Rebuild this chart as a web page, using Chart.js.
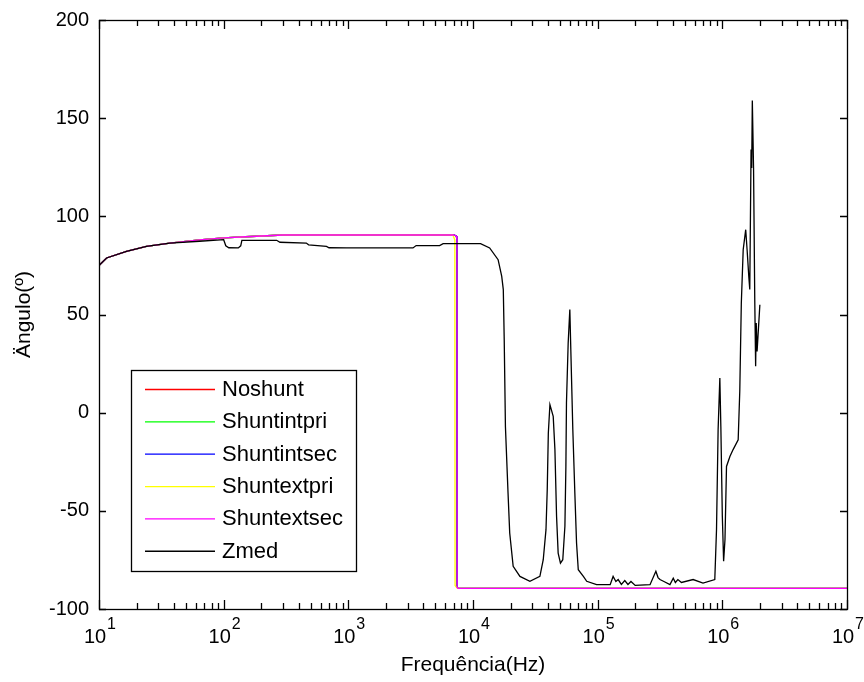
<!DOCTYPE html>
<html>
<head>
<meta charset="utf-8">
<script src="https://cdn.jsdelivr.net/npm/chart.js@4.4.1/dist/chart.umd.min.js"></script>
<style>
  html, body { margin: 0; padding: 0; background: #fff; }
  #wrap { width: 864px; height: 682px; }
</style>
</head>
<body>
<div id="wrap"><canvas id="chart" width="864" height="682"></canvas></div>
<script>
// shunt curves all sit on top of each other
const shuntFreq  = [10, 11.5, 16.6, 24, 37, 64, 100, 150, 300, 7000, 7350, 7440, 7460, 7600, 10000000]
const shuntAngle = [75, 78.8, 82.2, 84.7, 86.4, 88, 89, 89.6, 90.5, 90.5, 90, 88, -89, -89.5, -89.5]
// Shuntextpri drops a little earlier
const extpriFreq  = [10, 11.5, 16.6, 24, 37, 64, 100, 150, 300, 6900, 7150, 7180, 7500, 10000000]
const extpriAngle = [75, 78.8, 82.2, 84.7, 86.4, 88, 89, 89.6, 90.5, 90.5, 88, -88, -89.5, -89.5]

const zmedFreq = [
  10, 11.5, 16.6, 24, 37, 64, 100, 104, 110, 131, 137, 140, 266, 283, 460, 480, 668, 700, 966,
  3300, 3500, 5400, 5760, 11500, 13600, 15900, 17000, 17500, 17800, 18200, 19100, 19700, 21000,
  23800, 28600, 34400, 36600, 38500, 39400, 40200, 41400, 44000, 45400, 46800, 48200, 50300,
  52500, 54600, 55600, 56200, 58000, 59800, 60900, 63200, 65600, 67700, 69900, 76800, 81700,
  98000, 126000, 133000, 140000, 146000, 155000, 165000, 175000, 185000, 200000, 263000,
  293000, 305000, 316000, 340000, 380000, 404000, 420000, 440000, 470000, 583000, 700000,
  870000, 898000, 925000, 955000, 973000, 1000000, 1024000, 1050000, 1080000, 1150000,
  1220000, 1340000, 1380000, 1420000, 1470000, 1540000, 1580000, 1630000, 1660000, 1700000,
  1720000, 1740000, 1780000, 1820000, 1850000, 1870000, 1900000, 2000000
]
const zmedAngle = [
  75, 78.8, 82.2, 84.7, 86.4, 87.3, 88.1, 85, 84, 83.9, 85, 87.8, 87.8, 86.8, 86.4, 85.5, 84.7, 84, 83.9,
  83.9, 85.1, 85.1, 86.1, 86.1, 83.9, 77.9, 69.4, 62.7, 37.2, -7, -40.9, -61.3, -78.3,
  -83.4, -85.9, -83.4, -74.9, -59.6, -39.2, -10.4, 4.1, -1.9, -18.8, -52.8, -71.5, -76.6,
  -74.9, -57.9, -27.4, 4.9, 35.5, 52.5, 32.1, -8.7, -40.9, -66.4, -80, -83.4, -85.9,
  -87.6, -87.6, -83.4, -86, -85, -87.5, -85.5, -87.5, -86, -88, -87.6,
  -80.8, -84, -85, -86, -87.6, -84.3, -86.5, -85, -86.5, -85, -86.8,
  -85, -59.6, -8.7, 17.7, -7, -52.8, -75.7, -64.7, -27.4, -22.3,
  -18.8, -13.8, 10.9, 55.9, 83, 93.2, 83, 69.4, 62.7, 134,
  124.6, 159, 124.6, 57.6, 23.6, 45.7, 31.2, 55
]

const seriesNames  = ['Noshunt', 'Shuntintpri', 'Shuntintsec', 'Shuntextpri', 'Shuntextsec', 'Zmed']
const seriesColors = ['#ff0000', '#00ff00', '#0000ff', '#ffff00', '#ff00ff', '#000000']

const xDecades   = [1e1, 1e2, 1e3, 1e4, 1e5, 1e6, 1e7]
const xDecadeExp = ['1', '2', '3', '4', '5', '6', '7']
const yMin = -100, yMax = 200, yStep = 50

const FONT = '"Liberation Sans", Arial, Helvetica, sans-serif'

// minor ticks 2..9 inside each decade
const xTickValues = []
xDecades.forEach((d, i) => {
  xTickValues.push(d)
  if (i < xDecades.length - 1) for (let k = 2; k <= 9; k++) xTickValues.push(d * k)
})

const pts = (fx, fy) => fx.map((f, i) => ({ x: f, y: fy[i] }))
const seriesData = [
  pts(shuntFreq, shuntAngle),
  pts(shuntFreq, shuntAngle),
  pts(shuntFreq, shuntAngle),
  pts(extpriFreq, extpriAngle),
  pts(shuntFreq, shuntAngle),
  pts(zmedFreq, zmedAngle)
]

// inward ticks, box, exponents, MATLAB-like legend
const matlabAxes = {
  id: 'matlabAxes',
  afterDraw(chart) {
    const { ctx, chartArea: a, scales: { x, y } } = chart
    ctx.save()
    ctx.strokeStyle = '#000'
    ctx.lineWidth = 1.3
    ctx.beginPath()
    y.ticks.forEach(t => {
      const py = Math.round(y.getPixelForValue(t.value)) + 0.5
      ctx.moveTo(a.left, py); ctx.lineTo(a.left + 7, py)
      ctx.moveTo(a.right, py); ctx.lineTo(a.right - 7, py)
    })
    x.ticks.forEach(t => {
      const px = Math.round(x.getPixelForValue(t.value)) + 0.5
      const len = xDecades.includes(t.value) ? 9 : 6
      ctx.moveTo(px, a.bottom); ctx.lineTo(px, a.bottom - len)
      ctx.moveTo(px, a.top); ctx.lineTo(px, a.top + len)
    })
    ctx.stroke()
    ctx.strokeRect(Math.round(a.left) + 0.5, Math.round(a.top) + 0.5,
      Math.round(a.right - a.left), Math.round(a.bottom - a.top))

    // exponent of the 10^n labels
    ctx.fillStyle = '#000'
    ctx.font = '16px ' + FONT
    ctx.textAlign = 'left'
    ctx.textBaseline = 'alphabetic'
    xDecades.forEach((v, i) => {
      ctx.fillText(xDecadeExp[i], x.getPixelForValue(v) + 8, 629)
    })

    // legend box
    const lx = 131, ly = 370, lw = 225, lh = 201
    ctx.fillStyle = '#fff'
    ctx.fillRect(lx, ly, lw, lh)
    ctx.strokeRect(lx + 0.5, ly + 0.5, lw, lh)
    ctx.font = '22px ' + FONT
    ctx.textBaseline = 'middle'
    chart.data.datasets.forEach((ds, i) => {
      const ry = 389.5 + i * 32.35
      ctx.strokeStyle = ds.borderColor
      ctx.beginPath()
      ctx.moveTo(145, ry); ctx.lineTo(215, ry)
      ctx.stroke()
      ctx.fillStyle = '#000'
      ctx.fillText(ds.label, 222, ry + 0.5)
    })
    ctx.restore()
  }
}

new Chart(document.getElementById('chart').getContext('2d'), {
  type: 'line',
  data: {
    datasets: seriesNames.map((name, i) => ({
      label: name,
      data: seriesData[i],
      borderColor: seriesColors[i],
      backgroundColor: seriesColors[i],
      borderWidth: 1.3,
      pointRadius: 0,
      tension: 0,
      fill: false,
      order: seriesNames.length - 1 - i
    }))
  },
  options: {
    responsive: false,
    animation: false,
    layout: { padding: { top: 20, right: 17, left: 0, bottom: 0 } },
    plugins: {
      legend: { display: false },
      tooltip: { enabled: false }
    },
    scales: {
      x: {
        type: 'logarithmic',
        min: 10,
        max: 1e7,
        grid: { display: false, drawTicks: false },
        border: { display: false },
        afterBuildTicks: (scale) => { scale.ticks = xTickValues.map(v => ({ value: v })) },
        afterFit: (scale) => {
          scale.height = 73
          scale.paddingLeft = 0
          scale.paddingRight = 0
        },
        ticks: {
          autoSkip: false,
          maxRotation: 0,
          padding: 16,
          labelOffset: -4,
          color: '#000',
          font: { size: 20, family: FONT },
          callback: (v) => xDecades.includes(v) ? '10' : ''
        },
        title: {
          display: true,
          text: 'Frequência(Hz)',
          color: '#000',
          font: { size: 21, family: FONT },
          padding: { top: 0, bottom: 4 }
        }
      },
      y: {
        min: yMin,
        max: yMax,
        grid: { display: false, drawTicks: false },
        border: { display: false },
        afterFit: (scale) => {
          scale.width = 99
          scale.paddingTop = 0
          scale.paddingBottom = 0
        },
        ticks: {
          stepSize: yStep,
          padding: 10,
          color: '#000',
          font: { size: 20, family: FONT }
        },
        title: {
          display: true,
          text: 'Ängulo(º)',
          color: '#000',
          font: { size: 21, family: FONT },
          padding: { top: 12, bottom: 0 }
        }
      }
    }
  },
  plugins: [matlabAxes]
})
</script>
</body>
</html>
